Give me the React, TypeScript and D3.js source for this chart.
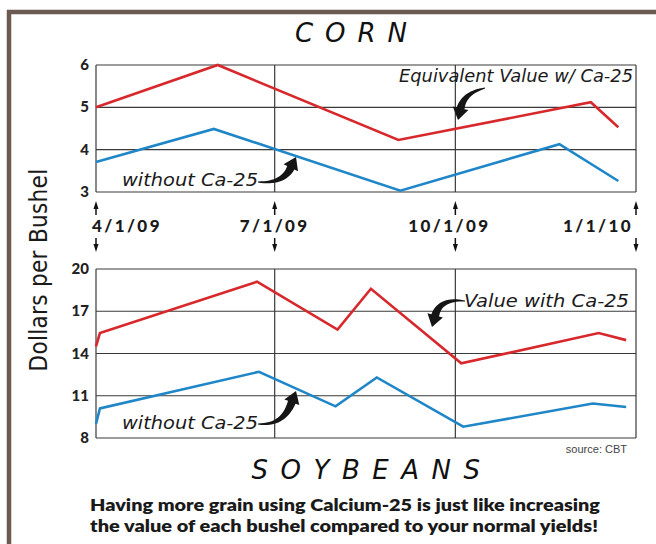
import * as d3 from 'd3';

const W = 656;
const H = 544;
const PLOT_L = 96;
const PLOT_R = 636;
const CORN_TOP = 65;
const CORN_BOT = 192;
const SOY_TOP = 269;
const SOY_BOT = 438;
const RED = '#d7282c';
const BLUE = '#1f86c8';
const GRID = '#3a3a3a';
const FRAME = '#6b5a51';

const quarterDates = ['2009-04-01', '2009-07-01', '2009-10-01', '2010-01-01'];
const quarterLabels = ['4/1/09', '7/1/09', '10/1/09', '1/1/10'];

const cornTicks = [3, 4, 5, 6];
const soyTicks = [8, 11, 14, 17, 20];

const cornWithDates = ['2009-04-01', '2009-06-02', '2009-09-02', '2009-12-09', '2009-12-23'];
const cornWithValues = [5.0, 6.0, 4.23, 5.12, 4.53];
const cornWithoutDates = ['2009-04-01', '2009-05-31', '2009-09-03', '2009-11-23', '2009-12-23'];
const cornWithoutValues = [3.71, 4.49, 3.03, 4.13, 3.26];

const soyWithDates = ['2009-04-01', '2009-04-03', '2009-06-22', '2009-08-02', '2009-08-19', '2009-10-04', '2009-12-13', '2009-12-27'];
const soyWithValues = [14.5, 15.45, 19.1, 15.7, 18.6, 13.3, 15.45, 14.95];
const soyWithoutDates = ['2009-04-01', '2009-04-03', '2009-06-23', '2009-08-01', '2009-08-22', '2009-10-05', '2009-12-10', '2009-12-27'];
const soyWithoutValues = [9.0, 10.1, 12.7, 10.25, 12.3, 8.8, 10.45, 10.2];

const parse = d3.timeParse('%Y-%m-%d');

const x = d3.scaleTime()
  .domain([parse(quarterDates[0])!, parse(quarterDates[3])!])
  .range([PLOT_L, PLOT_R]);

const yCorn = d3.scaleLinear().domain([3, 6]).range([CORN_BOT, CORN_TOP]);
const ySoy = d3.scaleLinear().domain([8, 20]).range([SOY_BOT, SOY_TOP]);

function zip(dates: string[], values: number[]) {
  return dates.map((d, i) => ({ date: parse(d)!, value: values[i] }));
}

// tapered curved arrow, like the hand-drawn swooshes in the original
function Swoosh({ tail, ctrl, tip }: { tail: [number, number]; ctrl: [number, number]; tip: [number, number] }) {
  const dx = tip[0] - ctrl[0];
  const dy = tip[1] - ctrl[1];
  const len = Math.hypot(dx, dy);
  const ux = dx / len;
  const uy = dy / len;
  const headLen = 12;
  const base: [number, number] = [tip[0] - ux * headLen, tip[1] - uy * headLen];
  const n = 16;
  const left: [number, number][] = [];
  const right: [number, number][] = [];
  for (let i = 0; i <= n; i++) {
    const t = i / n;
    const px = (1 - t) * (1 - t) * tail[0] + 2 * (1 - t) * t * ctrl[0] + t * t * base[0];
    const py = (1 - t) * (1 - t) * tail[1] + 2 * (1 - t) * t * ctrl[1] + t * t * base[1];
    const tx = 2 * (1 - t) * (ctrl[0] - tail[0]) + 2 * t * (base[0] - ctrl[0]);
    const ty = 2 * (1 - t) * (ctrl[1] - tail[1]) + 2 * t * (base[1] - ctrl[1]);
    const tl = Math.hypot(tx, ty) || 1;
    const w = 0.6 + 3.4 * t;
    left.push([px - (ty / tl) * w, py + (tx / tl) * w]);
    right.push([px + (ty / tl) * w, py - (tx / tl) * w]);
  }
  const head: [number, number][] = [
    [base[0] - uy * 8, base[1] + ux * 8],
    [tip[0], tip[1]],
    [base[0] + uy * 8, base[1] - ux * 8],
  ];
  const pts = [...left, head[0], head[1], head[2], ...right.reverse()];
  return <polygon points={pts.map(p => p.join(',')).join(' ')} fill="#151515" />;
}

function Panel({ y, ticks, top, bot, series }: {
  y: d3.ScaleLinear<number, number>;
  ticks: number[];
  top: number;
  bot: number;
  series: { data: { date: Date; value: number }[]; color: string }[];
}) {
  const line = d3.line<{ date: Date; value: number }>()
    .x(d => x(d.date))
    .y(d => y(d.value));
  return (
    <g>
      {ticks.map(t => (
        <g key={t}>
          <line x1={PLOT_L} x2={PLOT_R} y1={y(t)} y2={y(t)} stroke={GRID} strokeWidth={1.2} />
          <text x={89} y={y(t) + 5} textAnchor="end" fontFamily="Lato, sans-serif" fontWeight={900}
            fontSize={15} fill="#222">{t}</text>
        </g>
      ))}
      {quarterDates.map(d => (
        <line key={d} x1={x(parse(d)!)} x2={x(parse(d)!)} y1={top} y2={bot} stroke={GRID} strokeWidth={1.2} />
      ))}
      {series.map((s, i) => (
        <path key={i} d={line(s.data)!} fill="none" stroke={s.color} strokeWidth={2.6} strokeLinejoin="miter" />
      ))}
    </g>
  );
}

export default function App() {
  const annStyle = {
    fontFamily: 'DejaVu Sans, sans-serif', fontStyle: 'italic' as const, fontSize: 17, fill: '#1a1a1a',
    lengthAdjust: 'spacingAndGlyphs' as const,
  };
  const dates = quarterDates.map(d => parse(d)!);
  return (
    <svg width={W} height={H} style={{ display: 'block', position: 'absolute', left: 0, top: 0 }}>
      <rect width={W} height={H} fill="#fff" />
      <path d={`M9,${H} V12 H${W}`} fill="none" stroke={FRAME} strokeWidth={4.5} />

      <text x={357} y={42} textAnchor="middle" fontFamily="DejaVu Sans, sans-serif" fontStyle="italic"
        fontSize={26} letterSpacing={12} fill="#111">CORN</text>

      <Panel y={yCorn} ticks={cornTicks} top={CORN_TOP} bot={CORN_BOT} series={[
        { data: zip(cornWithDates, cornWithValues), color: RED },
        { data: zip(cornWithoutDates, cornWithoutValues), color: BLUE },
      ]} />

      <Panel y={ySoy} ticks={soyTicks} top={SOY_TOP} bot={SOY_BOT} series={[
        { data: zip(soyWithDates, soyWithValues), color: RED },
        { data: zip(soyWithoutDates, soyWithoutValues), color: BLUE },
      ]} />

      {/* date labels with up/down pointers */}
      {dates.map((d, i) => {
        const cx = x(d);
        const anchor = i === 0 ? 'start' : i === 3 ? 'end' : 'middle';
        const tx = i === 0 ? cx - 4 : i === 3 ? cx - 3 : i === 2 ? cx - 6 : cx;
        return (
          <g key={i}>
            <line x1={cx} x2={cx} y1={206} y2={215} stroke="#111" strokeWidth={1.5} />
            <polygon points={`${cx},201 ${cx - 2.5},209 ${cx + 2.5},209`} fill="#111" />
            <line x1={cx} x2={cx} y1={238} y2={247} stroke="#111" strokeWidth={1.5} />
            <polygon points={`${cx},252 ${cx - 2.5},244 ${cx + 2.5},244`} fill="#111" />
            <text x={tx} y={232} textAnchor={anchor} fontFamily="Lato, sans-serif" fontWeight={900}
              fontSize={17} letterSpacing={2.4} fill="#1a1a1a">{quarterLabels[i]}</text>
          </g>
        );
      })}

      {/* annotations */}
      <text x={399} y={82} textLength={234} {...annStyle}>Equivalent Value w/ Ca-25</text>
      <Swoosh tail={[485, 88]} ctrl={[464, 93]} tip={[458, 120]} />

      <text x={122} y={186} textLength={136} {...annStyle}>without Ca-25</text>
      <Swoosh tail={[258, 182]} ctrl={[283, 184]} tip={[296, 157]} />

      <text x={464} y={307} textLength={165} {...annStyle}>Value with Ca-25</text>
      <Swoosh tail={[465, 301]} ctrl={[440, 298]} tip={[432, 327]} />

      <text x={122} y={429} textLength={136} {...annStyle}>without Ca-25</text>
      <Swoosh tail={[258, 424]} ctrl={[283, 426]} tip={[296, 391]} />

      <text x={627} y={453} textAnchor="end" fontFamily="Liberation Sans, Arial, sans-serif" fontSize={11}
        fill="#444">source: CBT</text>

      <text x={372} y={479} textAnchor="middle" fontFamily="DejaVu Sans, sans-serif" fontStyle="italic"
        fontSize={26} letterSpacing={12.5} fill="#111">SOYBEANS</text>

      <text transform="translate(47,270) rotate(-90)" textAnchor="middle"
        fontFamily="Liberation Sans Narrow, DejaVu Sans Condensed, sans-serif" fontSize={24}
        letterSpacing={0.3} fill="#1a1a1a">Dollars  per  Bushel</text>

      <text x={90} y={511} textLength={510} lengthAdjust="spacingAndGlyphs" fontFamily="Lato, sans-serif"
        fontWeight={800} fontSize={17} fill="#1a1a1a">Having more grain using Calcium-25 is just like increasing</text>
      <text x={90} y={532} textLength={508} lengthAdjust="spacingAndGlyphs" fontFamily="Lato, sans-serif"
        fontWeight={800} fontSize={17} fill="#1a1a1a">the value of each bushel compared to your normal yields!</text>
    </svg>
  );
}
